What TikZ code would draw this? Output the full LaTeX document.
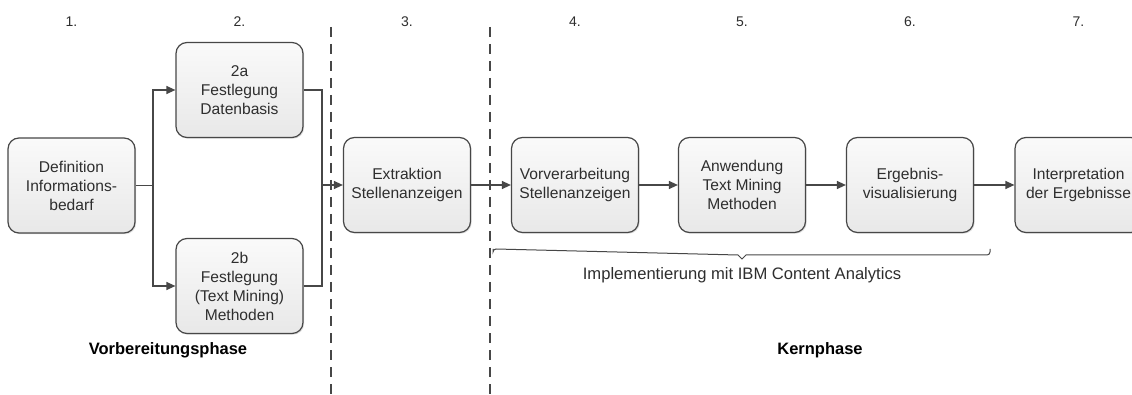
\documentclass[tikz,border=0pt]{standalone}
\usepackage{fontspec}
\setmainfont{Liberation Sans}
\usetikzlibrary{arrows.meta,shadows}
\definecolor{linegray}{HTML}{474747}
\definecolor{txtgray}{HTML}{2E2E2E}
\tikzset{
  stepbox/.style={draw=linegray, line width=1.2pt, rounded corners=11pt,
    top color=gray!4, bottom color=gray!18, minimum width=127pt, minimum height=95pt,
    inner sep=2pt, align=center, text=txtgray,
    font=\fontsize{15.6}{19}\selectfont,
    drop shadow={opacity=0.25, shadow xshift=1.2pt, shadow yshift=-1.2pt, fill=gray}},
  conn/.style={draw=linegray, line width=1.2pt},
  arr/.style={conn, -{Triangle[length=9pt,width=8pt]}},
  phaseline/.style={draw=linegray, line width=1.3pt, dash pattern=on 10pt off 7pt},
  numlabel/.style={text=txtgray, font=\fontsize{14}{16}\selectfont},
  phaselabel/.style={text=black, font=\fontsize{16.5}{19}\selectfont\bfseries},
  impllabel/.style={text=txtgray, font=\fontsize{16.6}{19}\selectfont}
}
\begin{document}
\begin{tikzpicture}[x=1pt,y=-1pt]
\clip (0,0) rectangle (1132,395);
\fill[white] (0,0) rectangle (1132,395);

% phase separators
\coordinate (d1t) at (331,27); \coordinate (d1b) at (331,395);
\coordinate (d2t) at (490,27); \coordinate (d2b) at (490,395);
\draw[phaseline] (d1t) -- (d1b);
\draw[phaseline] (d2t) -- (d2b);

% boxes
\node[stepbox] (def) at (71.5,185.5) {Definition\\Informations-\\bedarf};
\node[stepbox] (a2) at (239.5,90) {2a\\Festlegung\\Datenbasis};
\node[stepbox] (b2) at (239.5,286) {2b\\Festlegung\\(Text Mining)\\Methoden};
\node[stepbox] (ext) at (407,185) {Extraktion\\Stellenanzeigen};
\node[stepbox] (vor) at (575,185) {Vorverarbeitung\\Stellenanzeigen};
\node[stepbox] (anw) at (742,185) {Anwendung\\Text Mining\\Methoden};
\node[stepbox] (erg) at (910,185) {Ergebnis-\\visualisierung};
\node[stepbox] (int) at (1078.5,185) {Interpretation\\der Ergebnisse};

% connectors
\coordinate (split) at (153,185.5);
\coordinate (join) at (322,185);
\draw[conn] (def.east) -- (split);
\draw[arr] (split) |- (a2.west);
\draw[arr] (split) |- (b2.west);
\draw[conn] (a2.east) -| (join);
\draw[conn] (b2.east) -| (join);
\draw[arr] (join) -- (ext.west);
\draw[arr] (ext) -- (vor);
\draw[arr] (vor) -- (anw);
\draw[arr] (anw) -- (erg);
\draw[arr] (erg) -- (int);

% step numbers
\node[numlabel] (n1) at (71.5,22) {1.};
\node[numlabel] (n2) at (239.5,22) {2.};
\node[numlabel] (n3) at (407,22) {3.};
\node[numlabel] (n4) at (575,22) {4.};
\node[numlabel] (n5) at (742,22) {5.};
\node[numlabel] (n6) at (910,22) {6.};
\node[numlabel] (n7) at (1078.5,22) {7.};

% brace
\coordinate (bl) at (493,249);
\coordinate (bm) at (742,259);
\coordinate (br) at (990,249);
\draw[draw=linegray, line width=1pt]
  (bl) -- (493,252) arc[start angle=180, end angle=270, radius=3]
  -- (738,255) -- (bm) -- (746,255) -- (987,255)
  arc[start angle=90, end angle=0, radius=3] -- (br);
\node[impllabel] (impl) at (742,275) {Implementierung mit IBM Content Analytics};

% phase labels
\node[phaselabel] (p1) at (168,350) {Vorbereitungsphase};
\node[phaselabel] (p2) at (820,350) {Kernphase};
\end{tikzpicture}
\end{document}
